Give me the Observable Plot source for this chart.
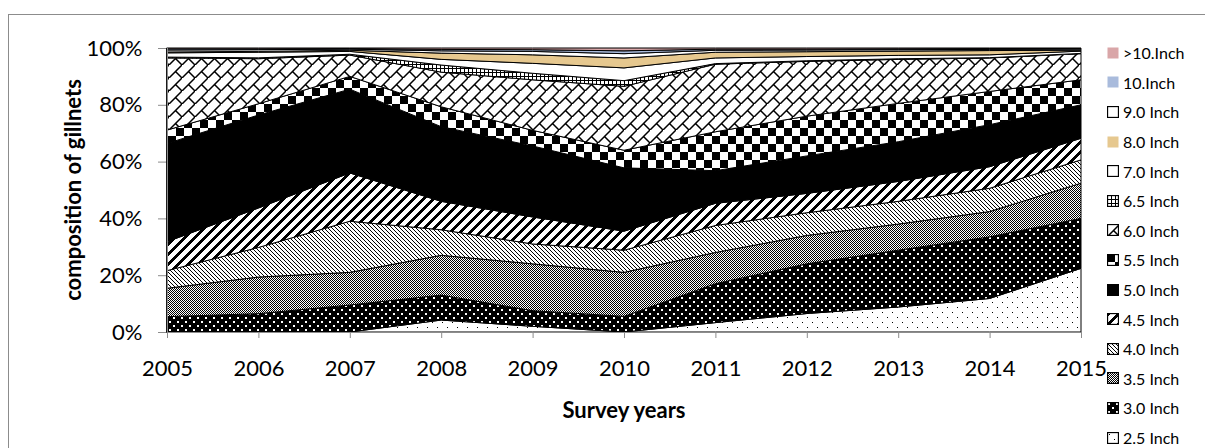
<!DOCTYPE html>
<html>
<head>
<meta charset="utf-8">
<script src="https://cdn.jsdelivr.net/npm/d3@7"></script>
<script src="https://cdn.jsdelivr.net/npm/@observablehq/plot@0.6"></script>
<style>
  html, body { margin: 0; padding: 0; background: #fff; }
  body { width: 1205px; height: 448px; position: relative; overflow: hidden; font-family: Lato, "Open Sans", sans-serif; }
  #frame { position: absolute; left: 8px; top: 14px; width: 1210px; height: 450px; border-left: 1px solid #8c8c8c; border-top: 1px solid #8c8c8c; }
  #chart { position: absolute; left: 0; top: 0; }
  #chart svg [aria-label="y-axis tick"], #chart svg [aria-label="x-axis tick"] { stroke: #8c8c8c; }
  #ytitle { position: absolute; left: 72px; top: 190px; transform: translate(-50%, -50%) rotate(-90deg); font-weight: bold; font-size: 22px; white-space: nowrap; color: #000; }
  #xtitle { position: absolute; left: 624px; top: 409px; transform: translate(-50%, -50%); font-weight: bold; font-size: 22px; white-space: nowrap; color: #000; }
  #legend { position: absolute; left: 1107px; top: 38px; }
  .item { height: 29.6px; display: flex; align-items: center; font-size: 16px; white-space: nowrap; }
  .item svg { margin-right: 4px; }
</style>
</head>
<body>
<svg id="defs" width="0" height="0" style="position:absolute"><defs id="pdefs"></defs></svg>
<div id="frame"></div>
<div id="chart"></div>
<div id="ytitle">composition of gillnets</div>
<div id="xtitle">Survey years</div>
<div id="legend"></div>
<script>
// ---- data ----
const years = [2005, 2006, 2007, 2008, 2009, 2010, 2011, 2012, 2013, 2014, 2015];
// gillnet mesh sizes, bottom of the stack first
const sizes = ["2.5 Inch", "3.0 Inch", "3.5 Inch", "4.0 Inch", "4.5 Inch", "5.0 Inch", "5.5 Inch",
               "6.0 Inch", "6.5 Inch", "7.0 Inch", "8.0 Inch", "9.0 Inch", "10.Inch", ">10.Inch"];
const v25  = [0, 0, 0, 4.2, 2, 0, 3.3, 6.5, 8.8, 11.8, 22.4];
const v30  = [5.4, 6.5, 9.5, 8.8, 5.5, 5.5, 13.7, 17.5, 20, 21.7, 17.6];
const v35  = [10, 13, 11.5, 14, 16.5, 15.5, 11, 10, 9.2, 8.9, 12.4];
const v40  = [6.2, 10.5, 18, 9, 7, 7.8, 9.5, 8, 8, 8.2, 8.2];
const v45  = [10.2, 14, 17, 10, 9.5, 6.7, 7.8, 6.8, 7, 7.6, 7.6];
const v50  = [34.6, 33, 29.5, 26.3, 25, 22.3, 11.5, 13.2, 14, 14.8, 11.8];
const v55  = [4.7, 4, 4.5, 7, 5.5, 6.2, 13.7, 14, 13.5, 11.7, 8.8];
const v60  = [25.4, 16, 7.5, 12.2, 17.8, 22.5, 23.8, 19.3, 15.5, 11.8, 9.2];
const v65  = [0.3, 0.3, 0.3, 2.5, 2.3, 2.0, 0.2, 0.2, 0.2, 0.1, 0.1];
const v70  = [1.5, 2.0, 1.0, 2.0, 3.5, 4.5, 2.0, 1.5, 1.2, 1.0, 0.8];
const v80  = [0.3, 0.3, 0.4, 2.2, 3.0, 3.5, 2.0, 1.7, 1.5, 1.5, 0.3];
const v90  = [0.7, 0.6, 0.4, 0.8, 1.2, 1.5, 0.7, 0.6, 0.5, 0.4, 0.4];
const v100 = [0.4, 0.3, 0.2, 0.5, 0.6, 1.0, 0.4, 0.3, 0.3, 0.3, 0.2];
const vGt10 = [0.3, 0.3, 0.2, 0.5, 0.6, 1.0, 0.4, 0.4, 0.3, 0.2, 0.2];
const yTicks = [0, 0.2, 0.4, 0.6, 0.8, 1.0];

const seriesValues = [v25, v30, v35, v40, v45, v50, v55, v60, v65, v70, v80, v90, v100, vGt10];
const table = [];
sizes.forEach((s, i) => years.forEach((y, j) => table.push({year: y, size: s, value: seriesValues[i][j]})));

// ---- patterns ----
const NS = "http://www.w3.org/2000/svg";
const defs = document.getElementById("pdefs");
function el(tag, attrs, parent) {
  const e = document.createElementNS(NS, tag);
  for (const k in attrs) e.setAttribute(k, attrs[k]);
  if (parent) parent.appendChild(e);
  return e;
}
function bitmap(id, w, h, on, fg = "#000", bg = "#fff") {
  const p = el("pattern", {id, width: w, height: h, patternUnits: "userSpaceOnUse"}, defs);
  el("rect", {width: w, height: h, fill: bg}, p);
  let d = "";
  for (let y = 0; y < h; y++) for (let x = 0; x < w; x++) if (on(x, y)) d += `M${x},${y}h1v1h-1z`;
  el("path", {d, fill: fg}, p);
}
bitmap("p25", 10, 10, (x, y) => (x === 2 && y === 2) || (x === 7 && y === 7));
bitmap("p30", 8, 8, (x, y) => ((x === 1 || x === 2) && (y === 1 || y === 2)) || ((x === 5 || x === 6) && (y === 5 || y === 6)), "#fff", "#000");
bitmap("p35", 2, 2, (x, y) => (x + y) % 2 === 0);
bitmap("p40", 4, 4, (x, y) => x === y);
bitmap("p45", 10, 10, (x, y) => (x + y) % 10 < 4);
bitmap("p55", 16, 16, (x, y) => (x < 8) === (y < 8));
bitmap("p65", 4, 4, (x, y) => x === 0 || y === 0);
{
  const p = el("pattern", {id: "p60", width: 13, height: 13, patternUnits: "userSpaceOnUse"}, defs);
  el("rect", {width: 13, height: 13, fill: "#fff"}, p);
  el("path", {d: "M-2,15L15,-2M6.5,6.5L13,13M-1,-1L0,0", stroke: "#000", "stroke-width": 1.5, fill: "none"}, p);
}

const fills = ["url(#p25)", "url(#p30)", "url(#p35)", "url(#p40)", "url(#p45)", "#000", "url(#p55)",
               "url(#p60)", "url(#p65)", "#fff", "#E6C88F", "#fff", "#A9BBDC", "#D9A6A8"];

// ---- chart ----
const chart = Plot.plot({
  width: 1110,
  height: 400,
  marginLeft: 167,
  marginRight: 29,
  marginTop: 48,
  marginBottom: 68,
  style: {fontFamily: "Lato, 'Open Sans', sans-serif", fontSize: "22px", color: "#000", background: "transparent"},
  x: {domain: [2005, 2015], ticks: years, tickFormat: d => String(d), tickSize: 6, tickPadding: 22, label: null},
  y: {domain: [0, 1], ticks: yTicks, tickFormat: d3.format(".0%"), tickSize: 9, tickPadding: 16, label: null},
  color: {domain: sizes, range: fills},
  marks: [
    Plot.areaY(table, Plot.stackY({x: "year", y: "value", z: "size", fill: "size", order: sizes, offset: "normalize", stroke: "#000", strokeWidth: 1})),
    Plot.ruleX([2005], {stroke: "#8c8c8c"}),
    Plot.ruleY([0], {stroke: "#8c8c8c"})
  ]
});
document.getElementById("chart").appendChild(chart);

// ---- legend (top entry is the top of the stack) ----
const legend = document.getElementById("legend");
sizes.slice().reverse().forEach(s => {
  const i = sizes.indexOf(s);
  const item = document.createElement("div");
  item.className = "item";
  const sw = document.createElementNS(NS, "svg");
  sw.setAttribute("width", 12); sw.setAttribute("height", 12);
  const plain = [">10.Inch", "10.Inch", "8.0 Inch"].includes(s);
  el("rect", {x: 0.5, y: 0.5, width: 11, height: 11, fill: fills[i], stroke: plain ? "none" : "#000", "stroke-width": plain ? 0 : 1.3}, sw);
  item.appendChild(sw);
  const t = document.createElement("span");
  t.textContent = s;
  item.appendChild(t);
  legend.appendChild(item);
});
</script>
</body>
</html>
